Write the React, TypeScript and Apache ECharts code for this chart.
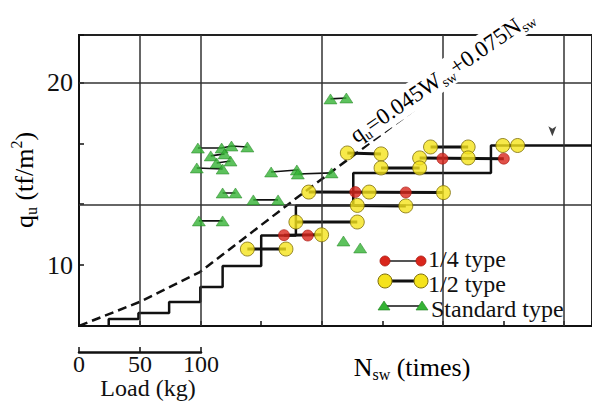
import React, { useEffect, useRef } from "react";
import * as echarts from "echarts";

// ---- axes ----
const xMax = 422.9;
const xStep = 50;
const qMin = 20 / 3;
const qMax = 22.6;
const qStep = 10 / 3;
const qLabels = [10, 20];
const gridLinesX = [50, 100, 200, 300, 400];
const gridLinesQ = [20, 40 / 3];
const loadMax = 100;
const loadStep = 50;

// ---- staircase (solid black) ----
const stairX = [24.5, 49, 74.3, 100, 118.4, 150.2, 178.8, 226.1, 339.6, 422.9];
const stairQ = [6.67, 7.05, 7.38, 7.98, 8.8, 9.95, 11.62, 13.27, 15.05, 16.55];

// ---- qu = 0.045Wsw + 0.075Nsw (dashed) ----
const envelopeX = [0, 49.8, 99.6, 180.4, 353.5];
const envelopeQ = [6.67, 7.98, 9.62, 13.73, 22.33];

// ---- 1/2 type (yellow) ----
const halfX = [138.8, 170.6, 178.8, 200.0, 189.4, 239.2, 229.4, 269.4, 229.4, 300.4, 221.2, 249.0, 249.0, 289.8, 320.8, 280.8, 280.8, 320.8, 349.4, 361.6];
const halfQ = [10.88, 10.88, 12.36, 11.66, 14.0, 14.0, 13.27, 13.24, 12.36, 13.97, 16.14, 16.09, 15.32, 16.47, 16.47, 15.87, 15.32, 15.87, 16.55, 16.55];

// ---- 1/4 type (red) ----
const quarterX = [169.0, 188.6, 227.8, 269.4, 299.6, 350.2];
const quarterQ = [11.64, 11.62, 14.0, 13.98, 15.83, 15.83];

// ---- standard type (green) ----
const stdX = [98.0, 117.6, 125.7, 138.8, 108.6, 120.0, 113.5, 124.9, 97.1, 118.4, 158.4, 179.6, 180.4, 208.2, 118.4, 129.0, 143.7, 164.1, 98.8, 118.4, 207.3, 220.4, 218.0, 231.8];
const stdQ = [16.41, 16.41, 16.52, 16.47, 15.98, 16.09, 15.59, 15.70, 15.32, 15.26, 15.10, 15.21, 14.99, 15.05, 13.95, 13.95, 13.57, 13.57, 12.42, 12.42, 19.10, 19.15, 11.32, 10.94];

// ---- connecting lines ----
const testRuns = [
  [[138.8, 10.88], [170.6, 10.88]],
  [[169.0, 11.64], [200.0, 11.66]],
  [[178.8, 12.36], [229.4, 12.36]],
  [[226.1, 13.27], [269.4, 13.24]],
  [[189.4, 14.0], [300.4, 13.97]],
  [[221.2, 16.14], [249.0, 16.09]],
  [[249.0, 15.32], [280.8, 15.32]],
  [[280.8, 15.87], [350.2, 15.83]],
  [[289.8, 16.47], [320.8, 16.47]],
];
const stdRuns = [
  [[98.0, 16.41], [117.6, 16.41], [125.7, 16.52], [138.8, 16.47]],
  [[108.6, 15.98], [120.0, 16.09]],
  [[113.5, 15.59], [124.9, 15.70]],
  [[97.1, 15.32], [118.4, 15.26]],
  [[158.4, 15.10], [179.6, 15.21]],
  [[180.4, 14.99], [208.2, 15.05]],
  [[118.4, 13.95], [129.0, 13.95]],
  [[143.7, 13.57], [164.1, 13.57]],
  [[98.8, 12.42], [118.4, 12.42]],
  [[207.3, 19.10], [220.4, 19.15]],
];
const arrowX = [390.2];
const arrowQ = [17.05];

const legendNames = ["1/4 type", "1/2 type", "Standard type"];

const serif = "Liberation Serif";
const YELLOW = "#f5e31c";
const RED = "#d9261c";
const GREEN = "#35b335";

const zip = (xs: number[], ys: number[]) => xs.map((x, i) => [x, ys[i]]);

function richSet(size: number) {
  const sub = Math.round(size * 0.6);
  return {
    m: { fontSize: size, fontFamily: serif, color: "#111", lineHeight: size + 5 },
    s: { fontSize: sub, fontFamily: serif, color: "#111", lineHeight: sub, verticalAlign: "bottom" },
    p: { fontSize: sub, fontFamily: serif, color: "#111", lineHeight: sub, verticalAlign: "top" },
  };
}

function label(text: string, x: number, y: number, size: number, align = "left") {
  return {
    type: "text", x, y, z: 11,
    style: { text, fontSize: size, fontFamily: serif, fill: "#111", align, verticalAlign: "middle" },
  };
}

export default function App() {
  const ref = useRef<HTMLDivElement>(null);
  useEffect(() => {
    if (!ref.current) return;
    const chart = echarts.init(ref.current, undefined, { renderer: "svg" });
    const near = (v: number, t: number) => Math.abs(v - t) < 0.05;
    const option: any = {
      animation: false,
      backgroundColor: "#fff",
      textStyle: { fontFamily: serif },
      grid: [
        { left: 79, top: 35, right: -5, bottom: 77, show: true, borderColor: "#222", borderWidth: 2 },
        { left: 79, top: 351, width: 122, height: 1 },
      ],
      xAxis: [
        {
          type: "value", gridIndex: 0, min: 0, max: xMax, interval: xStep,
          axisLine: { onZero: false, lineStyle: { color: "#111", width: 2 } },
          axisTick: { inside: true, length: 5, lineStyle: { color: "#111", width: 1.5 } },
          axisLabel: { show: false },
          splitLine: { show: false },
        },
        {
          type: "value", gridIndex: 1, min: 0, max: loadMax, interval: loadStep,
          axisLine: { onZero: false, lineStyle: { color: "#111", width: 2.5 } },
          axisTick: { inside: true, length: 5, lineStyle: { color: "#111", width: 1.5 } },
          axisLabel: { fontSize: 24, fontFamily: serif, color: "#111", margin: 0 },
          splitLine: { show: false },
        },
      ],
      yAxis: [
        {
          type: "value", gridIndex: 0, min: qMin, max: qMax, interval: qStep,
          axisLine: { onZero: false, lineStyle: { color: "#111", width: 2 } },
          axisTick: { inside: true, length: 5, lineStyle: { color: "#111", width: 1.5 } },
          axisLabel: {
            fontSize: 26, fontFamily: serif, color: "#111", margin: 6,
            formatter: (v: number) => {
              const hit = qLabels.find((t) => near(v, t));
              return hit !== undefined ? String(hit) : "";
            },
          },
          splitLine: { show: false },
        },
        { type: "value", gridIndex: 1, min: 0, max: 1, show: false },
      ],
      series: [
        {
          type: "line", xAxisIndex: 0, yAxisIndex: 0, step: "start", symbol: "none",
          data: zip(stairX, stairQ),
          lineStyle: { color: "#111", width: 2.5 },
          z: 3,
          markLine: {
            silent: true, symbol: "none", label: { show: false },
            lineStyle: { color: "#333", width: 1.5, type: "solid" },
            data: [
              ...gridLinesX.map((x) => ({ xAxis: x })),
              ...gridLinesQ.map((q) => ({ yAxis: q })),
            ],
          },
        },
        {
          type: "line", xAxisIndex: 0, yAxisIndex: 0, symbol: "none",
          data: zip(envelopeX, envelopeQ),
          lineStyle: { color: "#111", width: 2.5, type: [9, 5] },
          z: 3,
        },
        {
          type: "lines", coordinateSystem: "cartesian2d", xAxisIndex: 0, yAxisIndex: 0, polyline: true,
          data: testRuns.map((c) => ({ coords: c })),
          lineStyle: { color: "#111", width: 3, opacity: 1 },
          z: 4,
        },
        {
          type: "lines", coordinateSystem: "cartesian2d", xAxisIndex: 0, yAxisIndex: 0, polyline: true,
          data: stdRuns.map((c) => ({ coords: c })),
          lineStyle: { color: "#111", width: 1.6, opacity: 1 },
          z: 4,
        },
        {
          name: legendNames[2], type: "scatter", xAxisIndex: 0, yAxisIndex: 0,
          symbol: "triangle", symbolSize: [13, 10],
          data: zip(stdX, stdQ),
          itemStyle: { color: GREEN, borderColor: "#1f7f1f", borderWidth: 0.6 },
          z: 5,
        },
        {
          name: legendNames[1], type: "scatter", xAxisIndex: 0, yAxisIndex: 0,
          symbol: "circle", symbolSize: 14,
          data: zip(halfX, halfQ),
          itemStyle: { color: YELLOW, borderColor: "#7d6d0a", borderWidth: 1 },
          z: 6,
        },
        {
          name: legendNames[0], type: "scatter", xAxisIndex: 0, yAxisIndex: 0,
          symbol: "circle", symbolSize: 11,
          data: zip(quarterX, quarterQ),
          itemStyle: { color: RED, borderColor: "#a8160e", borderWidth: 0.8 },
          z: 7,
        },
        {
          type: "scatter", xAxisIndex: 0, yAxisIndex: 0,
          symbol: "arrow", symbolRotate: 180, symbolSize: [6, 10],
          data: zip(arrowX, arrowQ),
          itemStyle: { color: "#111" },
          z: 5,
        },
        { type: "scatter", xAxisIndex: 1, yAxisIndex: 1, data: [] },
      ],
      graphic: [
        {
          type: "text", x: 24, y: 180, rotation: Math.PI / 2, z: 10,
          style: {
            text: "{m|q}{s|u}{m| (tf/m}{p|2}{m|)}", rich: richSet(26),
            fontSize: 26, fontFamily: serif,
            align: "center", verticalAlign: "middle",
          },
        },
        {
          type: "text", x: 412, y: 367, z: 10,
          style: {
            text: "{m|N}{s|sw}{m| (times)}", rich: richSet(26),
            fontSize: 26, fontFamily: serif,
            align: "center", verticalAlign: "middle",
          },
        },
        label("Load (kg)", 148, 388, 24, "center"),
        {
          type: "text", x: 442, y: 76, rotation: 0.6, z: 10,
          style: {
            text: "{m|q}{s|u}{m|=0.045W}{s|sw}{m|+0.075N}{s|sw}", rich: richSet(23),
            fontSize: 23, fontFamily: serif,
            align: "center", verticalAlign: "middle",
            backgroundColor: "#fff", padding: [0, 2, 0, 2],
          },
        },
        // legend: 1/4 type
        { type: "line", z: 10, shape: { x1: 385, y1: 261, x2: 421, y2: 261 }, style: { stroke: "#555", lineWidth: 2 } },
        { type: "circle", z: 11, shape: { cx: 385, cy: 261, r: 5 }, style: { fill: RED, stroke: "#a8160e", lineWidth: 0.8 } },
        { type: "circle", z: 11, shape: { cx: 421, cy: 261, r: 5 }, style: { fill: RED, stroke: "#a8160e", lineWidth: 0.8 } },
        label(legendNames[0], 428, 259, 24),
        // legend: 1/2 type
        { type: "line", z: 10, shape: { x1: 385, y1: 281, x2: 421, y2: 281 }, style: { stroke: "#111", lineWidth: 3 } },
        { type: "circle", z: 11, shape: { cx: 385, cy: 281, r: 7 }, style: { fill: YELLOW, stroke: "#7d6d0a", lineWidth: 1 } },
        { type: "circle", z: 11, shape: { cx: 421, cy: 281, r: 7 }, style: { fill: YELLOW, stroke: "#7d6d0a", lineWidth: 1 } },
        label(legendNames[1], 428, 284, 24),
        // legend: standard type
        { type: "line", z: 10, shape: { x1: 384, y1: 306, x2: 422, y2: 306 }, style: { stroke: "#111", lineWidth: 1.6 } },
        { type: "polygon", z: 11, shape: { points: [[378, 310], [390, 310], [384, 301]] }, style: { fill: GREEN, stroke: "#1f7f1f", lineWidth: 0.6 } },
        { type: "polygon", z: 11, shape: { points: [[416, 310], [428, 310], [422, 301]] }, style: { fill: GREEN, stroke: "#1f7f1f", lineWidth: 0.6 } },
        label(legendNames[2], 431, 309, 24),
      ],
    };
    chart.setOption(option);
    return () => chart.dispose();
  }, []);
  return (
    <div
      ref={ref}
      style={{ position: "absolute", left: 0, top: 0, width: 592, height: 403, background: "#fff" }}
    />
  );
}
